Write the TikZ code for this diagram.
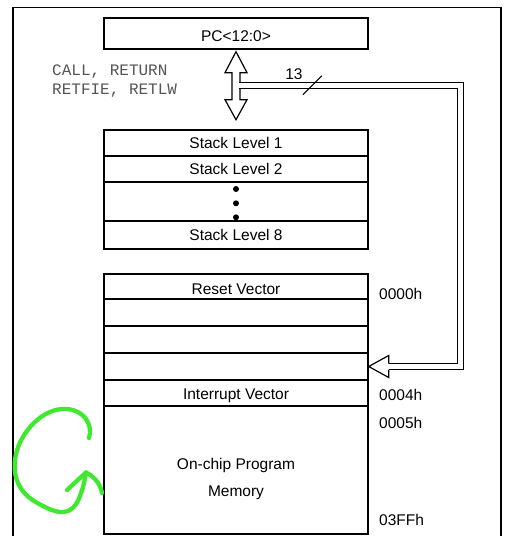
\documentclass[tikz,border=0pt]{standalone}
\usepackage{fontspec}
\setmainfont{Liberation Sans}
\setmonofont{Liberation Mono}
\usepackage{tikz}
\usepackage{xcolor}
\usetikzlibrary{hobby}
\definecolor{penGreen}{RGB}{64,232,48}
\definecolor{opGray}{RGB}{85,85,85}

\tikzset{
	cell/.style={draw, line width=1.4pt, minimum width=264pt, inner sep=0pt, font=\fontsize{15.5}{18}\selectfont},
	addr/.style={anchor=west, inner sep=0pt, font=\fontsize{15.5}{18}\selectfont},
	busline/.style={line width=1.2pt, double=white, double distance=4.8pt},
	hollowarrow/.style={draw, line width=1.2pt, fill=white, line join=miter},
	scribblepen/.style={draw=penGreen, line width=4.3pt, line cap=round, line join=round},
}

\begin{document}
\begin{tikzpicture}[x=1pt, y=-1pt]
	\useasboundingbox (0,0) rectangle (510,536);
	\clip (0,0) rectangle (510,536);
	
	%CORNICE
	\draw[line width=1.3pt] (13,7.5) rectangle (501,560);
	
	%PC
	\node[cell, minimum height=31pt, text height=17pt] (pc) at (236,33.5) {PC<12:0>};
	\node[anchor=west, inner sep=0pt, align=left, text=opGray, font=\ttfamily\fontsize{16}{19}\selectfont] (ops) at (52,81.5) {CALL, RETURN\\RETFIE, RETLW};
	
	%STACK
	\node[cell, minimum height=26pt] (stack1) at (236,143) {Stack Level 1};
	\node[cell, minimum height=26pt] (stack2) at (236,169) {Stack Level 2};
	\node[cell, minimum height=39pt] (stackdots) at (236,201.5) {};
	\node[cell, minimum height=28pt] (stack8) at (236,235) {Stack Level 8};
	\fill (236,189) circle (3pt);
	\fill (236,203.3) circle (3pt);
	\fill (236,217.3) circle (3pt);
	
	%MEMORIA
	\node[cell, minimum height=25pt, text height=16pt] (reset) at (236,286.5) {Reset Vector};
	\node[cell, minimum height=27pt] (mem1) at (236,312.5) {};
	\node[cell, minimum height=27pt] (mem2) at (236,339.5) {};
	\node[cell, minimum height=27pt] (mem3) at (236,366.5) {};
	\node[cell, minimum height=26pt, text height=16.5pt, text depth=3.5pt] (intvec) at (236,393) {Interrupt Vector};
	\node[cell, minimum height=128pt] (progmem) at (236,470) {};
	\node[align=center, inner sep=0pt, font=\fontsize{15.5}{27}\selectfont] (progtext) at (236,479) {On-chip Program\\Memory};
	
	%indirizzi
	\node[addr] (a0000) at (379,294) {0000h};
	\node[addr] (a0004) at (379,395) {0004h};
	\node[addr] (a0005) at (379,423) {0005h};
	\node[addr] (a03FF) at (379,520) {03FFh};
	
	%FRECCE
	\draw[hollowarrow] ([yshift=-2pt]pc.south) -- ++(11,21) -- ++(-7,0) -- ++(0,27) -- ++(7,0) -- ++(-11,20)
		-- ++(-11,-20) -- ++(7,0) -- ++(0,-27) -- ++(-7,0) -- cycle;
	\coordinate (busstart) at ([shift={(3.4,36)}]pc.south);
	\draw[busline] (busstart) -| ([xshift=92pt]mem3.east) -- ([xshift=20pt]mem3.east);
	\draw[hollowarrow] ([shift={(20,-3)}]mem3.east) -- ++(0,-8) -- (mem3.east) -- ([shift={(20,11)}]mem3.east) -- ++(0,-8);
	\draw[line width=1pt] ([shift={(63.5,9)}]busstart) -- ++(19,-19);
	\node[inner sep=0pt, font=\fontsize{15.5}{18}\selectfont] (buswidth) at ([shift={(54.6,-12)}]busstart) {13};
	
	%SCARABOCCHIO
	\draw[scribblepen, use Hobby shortcut] (89,438) .. (86,419) .. (62,409) .. (31,426) .. (15,460) .. (22,490) .. (45,507) .. (70,510) .. (80,496) .. (86,472.5);
	\draw[scribblepen] (67,490) -- (86,472.5);
	\draw[scribblepen, use Hobby shortcut] (86,472.5) .. (95,479) .. (102,493);
	
\end{tikzpicture}
\end{document}
